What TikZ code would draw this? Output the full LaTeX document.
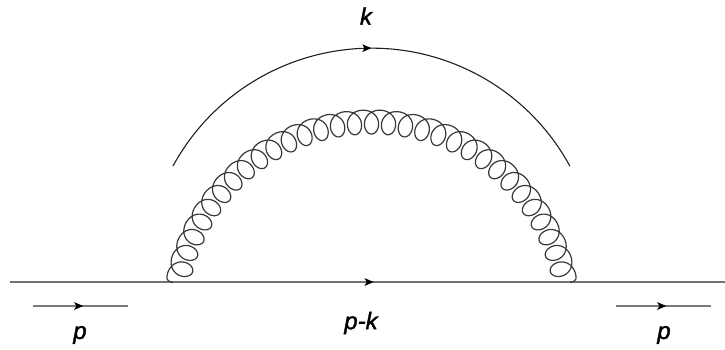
\documentclass[tikz,border=0pt]{standalone}
\usepackage{fontspec}
\setmainfont{Liberation Sans}
\newfontfamily\labfont[ItalicFeatures={FakeBold=1.5}]{Liberation Sans}
\usetikzlibrary{arrows.meta,decorations.markings}
\tikzset{
  x=1pt,y=1pt,
  midarrow/.style={postaction={decorate},decoration={markings,mark=at position #1 with {\arrow[black]{Stealth[length=9pt,width=7.5pt,inset=2pt]}}}},
  quark/.style={draw=black!55,line width=2.4pt},
  momentum/.style={draw=black!52,line width=1.8pt},
  thin arc/.style={draw=black!88,line width=1.1pt},
  gluon/.style={draw=black!78,line width=1.2pt,line join=round,line cap=round},
  lab/.style={font=\fontsize{24}{26}\labfont\itshape,inner sep=0pt,text=black}
}
\pgfmathdeclarefunction{gt}{1}{\pgfmathparse{165.2-(#1-180)/71.81}}
\pgfmathdeclarefunction{gr}{1}{\pgfmathparse{198+12*cos(#1)-1*cos(#1)*cos(#1)}}
\pgfmathdeclarefunction{gx}{1}{\pgfmathparse{371.5+gr(#1)*cos(gt(#1))+11*sin(#1)*sin(gt(#1))}}
\pgfmathdeclarefunction{gy}{1}{\pgfmathparse{30+gr(#1)*sin(gt(#1))-11*sin(#1)*cos(gt(#1))}}
\begin{document}
\begin{tikzpicture}
\useasboundingbox (0,0) rectangle (725,349);
\coordinate (qa) at (10,67);
\coordinate (qb) at (725,67);
\coordinate (la) at (33,43);
\coordinate (lb) at (128,43);
\coordinate (ra) at (616,43);
\coordinate (rb) at (711,43);
\coordinate (ka) at (173,183);
\coordinate (kb) at (570,183);
\coordinate (ga) at (173,66.5);
\coordinate (gb) at (570,66.5);
\draw[quark,midarrow=0.5087] (qa) -- (qb);
\draw[momentum,midarrow=0.53] (la) -- (lb);
\draw[momentum,midarrow=0.53] (ra) -- (rb);
\draw[thin arc,midarrow=0.5] (ka) arc[start angle=151.4,end angle=28.6,radius=226];
\draw[gluon] (ga) .. controls (169,67) and (166.5,69) .. ({gx(-10)},{gy(-10)})
  -- plot[domain=-10:11170,samples=2800] ({gx(\x)},{gy(\x)})
  .. controls (576.5,69) and (574,67) .. (gb);
\node[lab] (k) at (366,333) {k};
\node[lab] (pk) at (361,26) {p-k};
\node[lab] (p1) at (80,14) {p};
\node[lab] (p2) at (664,14) {p};
\end{tikzpicture}
\end{document}
